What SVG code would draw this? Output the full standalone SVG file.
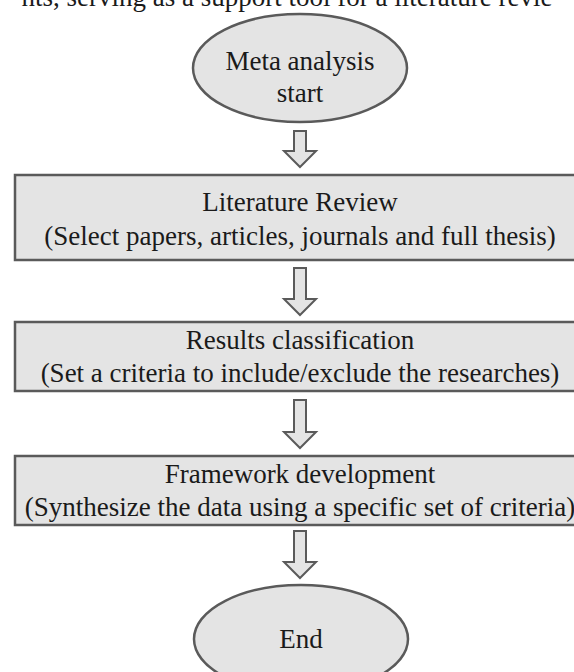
<svg xmlns="http://www.w3.org/2000/svg" width="574" height="672" viewBox="0 0 574 672">
<style>
.shape{fill:#e4e4e4;stroke:#5a5a5a;stroke-width:2.5}
.arrow{fill:#e4e4e4;stroke:#5a5a5a;stroke-width:2;stroke-linejoin:miter}
text{font-family:"Liberation Serif","Times New Roman",serif;font-size:27px;fill:#1a1a1a;text-anchor:middle}
</style>
<rect width="574" height="672" fill="#ffffff"/>
<text x="287" y="6">nts, serving as a support tool for a literature revie</text>
<g id="connectors">
<path class="arrow" d="M294,131 H306 V151 H316 L300,167 L284,151 H294 Z"/>
<path class="arrow" d="M294,268 H306 V299 H316 L300,315 L284,299 H294 Z"/>
<path class="arrow" d="M294,400 H306 V432 H316 L300,448 L284,432 H294 Z"/>
<path class="arrow" d="M294,531 H306 V562 H316 L300,578 L284,562 H294 Z"/>
</g>
<g id="start">
<ellipse class="shape" cx="300" cy="68" rx="107" ry="54"/>
<text x="300" y="70">Meta analysis</text>
<text x="300" y="102">start</text>
</g>
<g id="literature-review">
<rect class="shape" x="15" y="175" width="572" height="85"/>
<text x="300" y="211">Literature Review</text>
<text x="300" y="245">(Select papers, articles, journals and full thesis)</text>
</g>
<g id="results-classification">
<rect class="shape" x="15" y="322" width="572" height="69"/>
<text x="300" y="349">Results classification</text>
<text x="300" y="382">(Set a criteria to include/exclude the researches)</text>
</g>
<g id="framework-development">
<rect class="shape" x="15" y="456" width="572" height="69"/>
<text x="300" y="483">Framework development</text>
<text x="300" y="516">(Synthesize the data using a specific set of criteria)</text>
</g>
<g id="end">
<ellipse class="shape" cx="301" cy="639" rx="107" ry="54"/>
<text x="301" y="648">End</text>
</g>
</svg>
